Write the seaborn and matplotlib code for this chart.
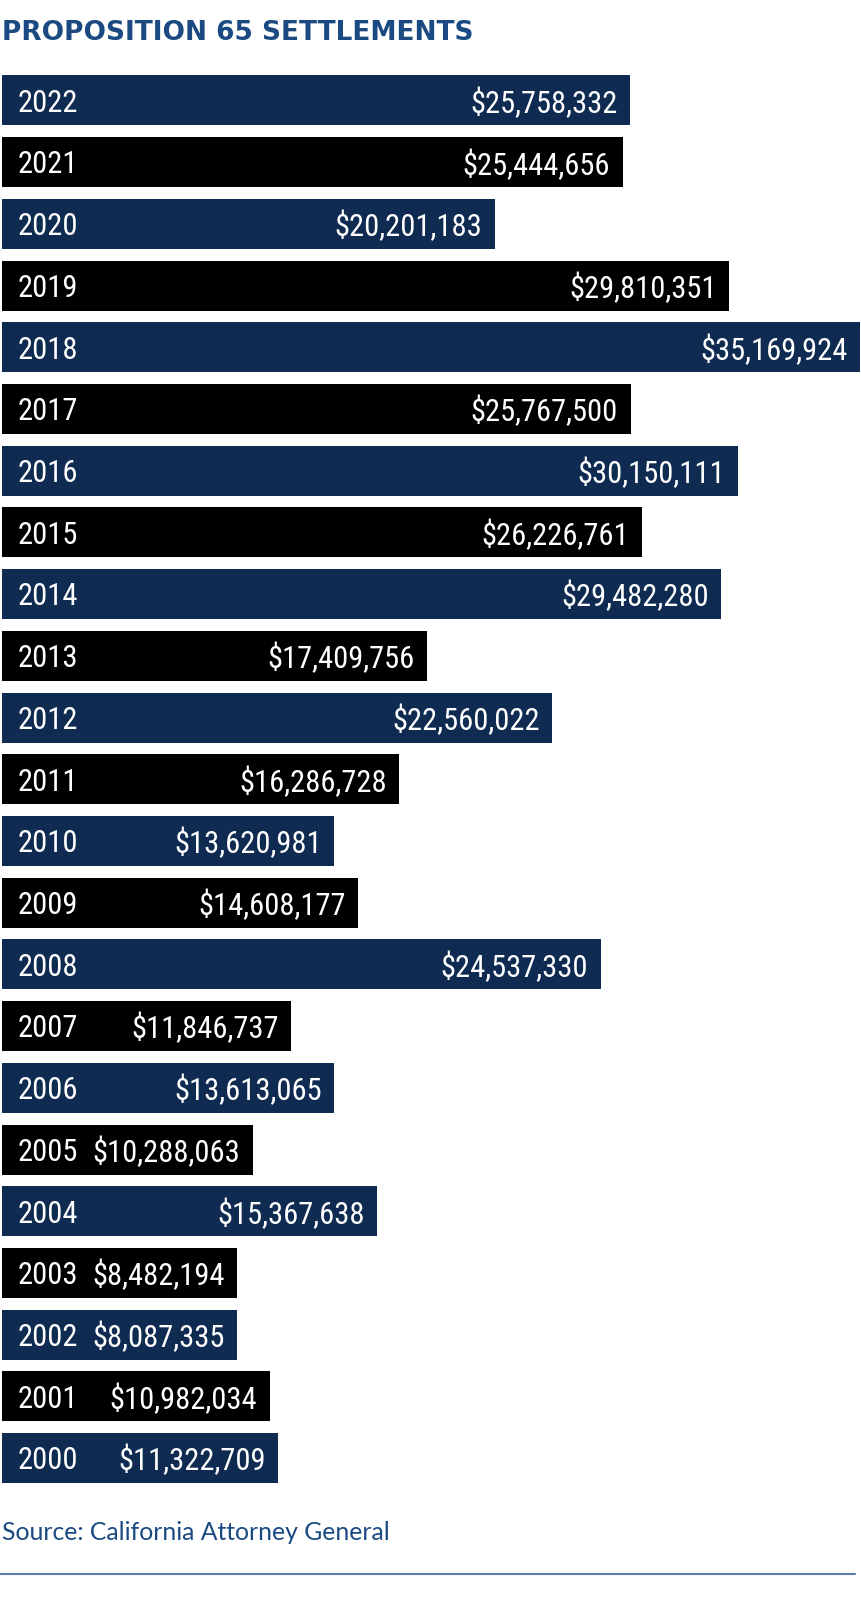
import pandas as pd
import seaborn as sns
import matplotlib.pyplot as plt
from matplotlib import font_manager

years = ['2022', '2021', '2020', '2019', '2018', '2017', '2016', '2015', '2014', '2013',
         '2012', '2011', '2010', '2009', '2008', '2007', '2006', '2005', '2004', '2003',
         '2002', '2001', '2000']
amounts = [25758332, 25444656, 20201183, 29810351, 35169924, 25767500, 30150111, 26226761,
           29482280, 17409756, 22560022, 16286728, 13620981, 14608177, 24537330, 11846737,
           13613065, 10288063, 15367638, 8482194, 8087335, 10982034, 11322709]
stripe = ['navy' if i % 2 == 0 else 'black' for i in range(len(years))]

title = 'PROPOSITION 65 SETTLEMENTS'
source = 'Source: California Attorney General'

navy = '#0f2b52'
title_blue = '#1b4a82'
my_palette = {'navy': navy, 'black': '#000000'}

# narrow face for the bar labels if one is around
installed = {f.name for f in font_manager.fontManager.ttflist}
narrow = 'DejaVu Sans'
for cand in ['Roboto Condensed', 'Liberation Sans Narrow', 'DejaVu Sans Condensed']:
    if cand in installed:
        narrow = cand
        break
light = 'Lato' if 'Lato' in installed else 'DejaVu Sans'

sns.set_style('white')
plt.rcParams['font.family'] = ['DejaVu Sans']

W, H = 862, 1600
fig = plt.figure(figsize=(W / 100, H / 100), dpi=100)
ax = fig.add_axes([2 / W, 0.0694, 858 / W, 0.8871])
ax.set_xlim(0, max(amounts))
ax.set_ylim(len(years) - 0.5, -0.5)
ax.axis('off')

label_kw = dict(textcoords='offset points', va='center', color='white',
                fontsize=22, family=narrow)

# year labels first, so the value labels can be fitted after them
year_txt = [ax.annotate(yr, xy=(0, i), xytext=(11, -2), ha='left', **label_kw)
            for i, yr in enumerate(years)]
val_str = [f'${v:,}' for v in amounts]

fig.canvas.draw()
r = fig.canvas.get_renderer()
ax_px = ax.get_window_extent(r).width
per_px = max(amounts) / ax_px
probe = ax.text(0, 0, '', fontsize=22, family=narrow)

# short bars get stretched so both labels fit inside, as in the original
drawn = []
for t, s, v in zip(year_txt, val_str, amounts):
    probe.set_text(s)
    need = (t.get_window_extent(r).x1 - ax.get_window_extent(r).x0
            + 14 + probe.get_window_extent(r).width + 13)
    drawn.append(max(v, need * per_px))
probe.remove()

df = pd.DataFrame({'Year': years, 'Amount': amounts, 'Drawn': drawn, 'Stripe': stripe})

sns.barplot(data=df, x='Drawn', y='Year', hue='Stripe', palette=my_palette,
            orient='h', width=0.81, dodge=False, legend=False, ax=ax,
            edgecolor='none', saturation=1)
ax.set_xlim(0, max(amounts))
ax.set_ylim(len(years) - 0.5, -0.5)
ax.axis('off')
for t in year_txt:
    t.set_zorder(5)

for i, (s, d) in enumerate(zip(val_str, df['Drawn'])):
    ax.annotate(s, xy=(d, i), xytext=(-9, -2), ha='right', zorder=5, **label_kw)


def fit_text(x, y, s, width_px, **kw):
    t = fig.text(x, y, s, **kw)
    w = t.get_window_extent(fig.canvas.get_renderer()).width
    t.set_fontsize(t.get_fontsize() * width_px / w)
    return t


fit_text(2 / W, 1 - 33 / H, title, 472, ha='left', va='center', color=title_blue,
         fontsize=19, fontweight='bold')
fit_text(2 / W, 1 - 1532 / H, source, 388, ha='left', va='center', color=title_blue,
         fontsize=16, family=light)
fig.add_artist(plt.Line2D([0, 855 / W], [1 - 1574 / H] * 2, color='#5a7fa8', lw=1.5))

fig.savefig('out.png', dpi=100)
